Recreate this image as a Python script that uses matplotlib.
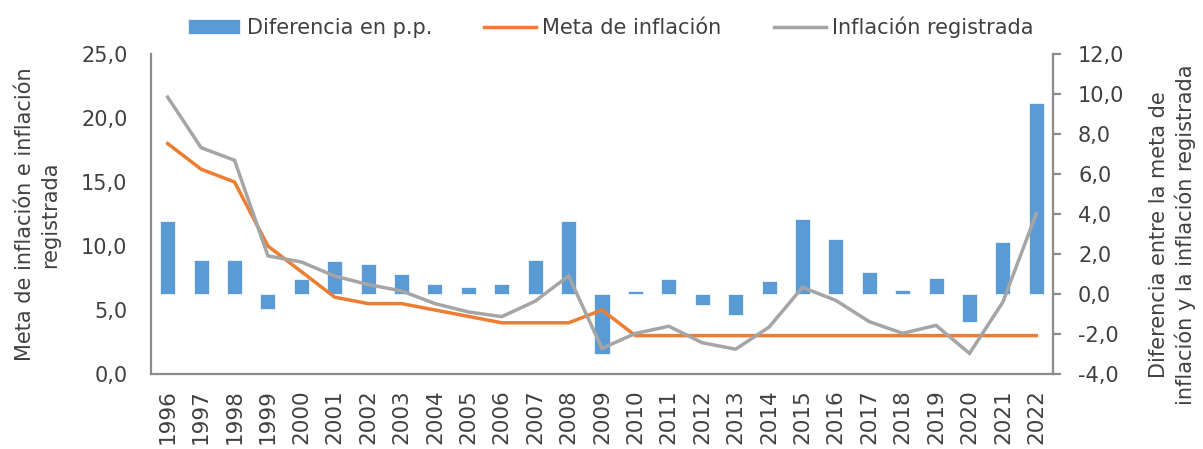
import matplotlib
matplotlib.use('Agg')
import matplotlib.pyplot as plt
from matplotlib.ticker import FuncFormatter
import numpy as np

years = [str(y) for y in range(1996, 2023)]
meta = [18, 16, 15, 10, 8, 6, 5.5, 5.5, 5, 4.5, 4, 4, 4, 5,
        3, 3, 3, 3, 3, 3, 3, 3, 3, 3, 3, 3, 3]
inflacion = [21.63, 17.68, 16.70, 9.23, 8.75, 7.65, 6.99, 6.49, 5.50, 4.85, 4.48, 5.69, 7.67, 2.00,
             3.17, 3.73, 2.44, 1.94, 3.66, 6.77, 5.75, 4.09, 3.18, 3.80, 1.61, 5.62, 12.53]
diferencia = [3.63, 1.68, 1.70, -0.77, 0.75, 1.65, 1.49, 0.99, 0.50, 0.35, 0.48, 1.69, 3.67, -3.00,
              0.17, 0.73, -0.56, -1.06, 0.66, 3.77, 2.75, 1.09, 0.18, 0.80, -1.39, 2.62, 9.53]

TXT = '#404040'
AXC = '#8c8c8c'
BLUE = '#5b9bd5'
ORANGE = '#ed7d31'
GRAY = '#a5a5a5'

plt.rcParams['font.family'] = ['DejaVu Sans']
plt.rcParams['font.size'] = 15

W, H = 1203, 449
fig = plt.figure(figsize=(W / 100, H / 100), dpi=100)
ax = fig.add_axes([151 / W, 1 - 374 / H, (1053 - 151) / W, (374 - 54) / H])
ax2 = ax.twinx()

x = np.arange(len(years))

# bars on the right axis (behind the lines)
bars = ax2.bar(x, diferencia, width=0.45, color=BLUE, edgecolor='white',
               linewidth=0.5, label='Diferencia en p.p.')
ax2.set_ylim(-4, 12)
ax2.set_yticks(np.arange(-4, 12.1, 2))

# lines on the left axis
l1, = ax.plot(x, meta, color=ORANGE, lw=2.5, label='Meta de inflación',
              solid_joinstyle='miter')
l2, = ax.plot(x, inflacion, color=GRAY, lw=2.5, label='Inflación registrada',
              solid_joinstyle='miter')
ax.set_ylim(0, 25)
ax.set_yticks(np.arange(0, 25.1, 5))
ax.set_xlim(-0.5, len(years) - 0.5)
ax.set_xticks(x)
ax.set_xticklabels(years, rotation=90)

ax.set_zorder(ax2.get_zorder() + 1)
ax.patch.set_visible(False)

fmt = FuncFormatter(lambda v, p: f'{v:.1f}'.replace('.', ','))
ax.yaxis.set_major_formatter(fmt)
ax2.yaxis.set_major_formatter(fmt)

for s in ['top', 'right']:
    ax.spines[s].set_visible(False)
for s in ['top', 'left', 'bottom']:
    ax2.spines[s].set_visible(False)
for sp in [ax.spines['left'], ax.spines['bottom'], ax2.spines['right']]:
    sp.set_color(AXC)
    sp.set_linewidth(1.6)

ax.tick_params(axis='y', length=0, pad=17, labelcolor=TXT, labelsize=15)
ax.tick_params(axis='x', length=0, pad=11, labelcolor=TXT, labelsize=15.5)
ax2.tick_params(axis='y', length=6, width=1.6, color=AXC, pad=12,
                labelcolor=TXT, labelsize=15, direction='out')

fig.text(37.5 / W, 1 - 214.5 / H, 'Meta de inflación e inflación\nregistrada',
         rotation=90, ha='center', va='center', color=TXT, fontsize=15,
         linespacing=1.3, multialignment='center')
fig.text(1172.5 / W, 1 - 234.5 / H,
         'Diferencia entre la meta de\ninflación y la inflación registrada',
         rotation=90, ha='center', va='center', color=TXT, fontsize=15,
         linespacing=1.3, multialignment='center')

fig.legend([bars, l1, l2], ['Diferencia en p.p.', 'Meta de inflación', 'Inflación registrada'],
           loc='center', bbox_to_anchor=(611 / W, 1 - 27.3 / H), ncol=3, frameon=False,
           handlelength=2.5, handletextpad=0.3, columnspacing=2.5, fontsize=15,
           labelcolor=TXT)

fig.savefig('out.png', dpi=100, facecolor='white')
